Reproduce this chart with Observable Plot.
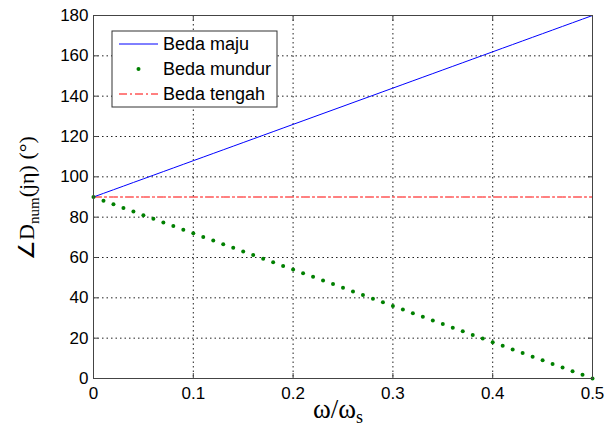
<!DOCTYPE html>
<html><head><meta charset="utf-8">
<script src="https://cdn.jsdelivr.net/npm/d3@7"></script>
<script src="https://cdn.jsdelivr.net/npm/@observablehq/plot@0.6"></script>
<style>body{margin:0;background:#fff} #chart{position:relative;width:614px;height:434px}</style>
</head><body><div id="chart"></div>
<script>
const omega = [0,0.01,0.02,0.03,0.04,0.05,0.06,0.07,0.08,0.09,
  0.1,0.11,0.12,0.13,0.14,0.15,0.16,0.17,0.18,0.19,
  0.2,0.21,0.22,0.23,0.24,0.25,0.26,0.27,0.28,0.29,
  0.3,0.31,0.32,0.33,0.34,0.35,0.36,0.37,0.38,0.39,
  0.4,0.41,0.42,0.43,0.44,0.45,0.46,0.47,0.48,0.49,0.5];
const bedaMaju = [90,91.8,93.6,95.4,97.2,99,100.8,102.6,104.4,106.2,
  108,109.8,111.6,113.4,115.2,117,118.8,120.6,122.4,124.2,
  126,127.8,129.6,131.4,133.2,135,136.8,138.6,140.4,142.2,
  144,145.8,147.6,149.4,151.2,153,154.8,156.6,158.4,160.2,
  162,163.8,165.6,167.4,169.2,171,172.8,174.6,176.4,178.2,180];
const bedaMundur = [90,88.2,86.4,84.6,82.8,81,79.2,77.4,75.6,73.8,
  72,70.2,68.4,66.6,64.8,63,61.2,59.4,57.6,55.8,
  54,52.2,50.4,48.6,46.8,45,43.2,41.4,39.6,37.8,
  36,34.2,32.4,30.6,28.8,27,25.2,23.4,21.6,19.8,
  18,16.2,14.4,12.6,10.8,9,7.2,5.4,3.6,1.8,0];
const bedaTengah = [90,90,90,90,90,90,90,90,90,90,
  90,90,90,90,90,90,90,90,90,90,
  90,90,90,90,90,90,90,90,90,90,
  90,90,90,90,90,90,90,90,90,90,
  90,90,90,90,90,90,90,90,90,90,90];
const xTicks = [0,0.1,0.2,0.3,0.4,0.5];
const yTicks = [0,20,40,60,80,100,120,140,160,180];
const seriesNames = ["Beda maju","Beda mundur","Beda tengah"];

const data = omega.map((w,i)=>({w, maju:bedaMaju[i], mundur:bedaMundur[i], tengah:bedaTengah[i]}));
const grid = {stroke:"#222", strokeOpacity:1, strokeDasharray:"1.5,3"};
const sans = "'Liberation Sans', Arial, sans-serif";
const serif = "'Liberation Serif', 'Times New Roman', serif";

const plot = Plot.plot({
  width:614, height:434,
  marginLeft:93, marginRight:22, marginTop:15, marginBottom:56,
  style:{fontFamily:sans, fontSize:"17px", color:"#000", background:"#fff"},
  x:{domain:[0,0.5]},
  y:{domain:[0,180]},
  marks:[
    Plot.gridX(xTicks, grid),
    Plot.gridY(yTicks, grid),
    Plot.line(data,{x:"w", y:"tengah", stroke:"#ff0000", strokeWidth:1, strokeDasharray:"8,3,2,3"}),
    Plot.line(data,{x:"w", y:"maju", stroke:"#0000ff", strokeWidth:1}),
    Plot.dot(data,{x:"w", y:"mundur", r:2, fill:"#008000", stroke:null}),
    Plot.axisX(xTicks,{anchor:"bottom", tickSize:-5, tickPadding:13, tickFormat:d=>String(d), label:null, stroke:"#444"}),
    Plot.axisX(xTicks,{anchor:"top", tickSize:-5, tickFormat:()=>"", label:null, stroke:"#444"}),
    Plot.axisY(yTicks,{anchor:"left", tickSize:-5, tickPadding:10, tickFormat:d=>String(d), label:null, stroke:"#444"}),
    Plot.axisY(yTicks,{anchor:"right", tickSize:-5, tickFormat:()=>"", label:null, stroke:"#444"}),
    Plot.frame({stroke:"#444", strokeWidth:1})
  ]
});
document.getElementById("chart").appendChild(plot);

const svg = d3.select(plot);
// legend
const lg = svg.append("g");
lg.append("rect").attr("x",112).attr("y",31).attr("width",165).attr("height",76)
  .attr("fill","#fff").attr("stroke","#333");
const rows = [44,69,94];
lg.append("line").attr("x1",119).attr("x2",158).attr("y1",rows[0]).attr("y2",rows[0]).attr("stroke","#0000ff");
lg.append("circle").attr("cx",138.5).attr("cy",rows[1]).attr("r",2).attr("fill","#008000");
lg.append("line").attr("x1",119).attr("x2",158).attr("y1",rows[2]).attr("y2",rows[2]).attr("stroke","#ff0000").attr("stroke-dasharray","8,3,2,3");
seriesNames.forEach((n,i)=>{
  lg.append("text").attr("x",163).attr("y",rows[i]).attr("dy","0.35em").attr("text-anchor","start")
    .style("font-family",sans).style("font-size","18px").attr("fill","#000").text(n);
});
// y label
const yl = svg.append("text").attr("transform","translate(34,198) rotate(-90)")
  .attr("text-anchor","middle").style("font-family",serif).style("font-size","22px").attr("fill","#000");
yl.append("tspan").text("\u2220D");
yl.append("tspan").attr("dy",5).style("font-size","15px").text("num");
yl.append("tspan").attr("dy",-5).text("(j\u03B7) (\u00B0)");
// x label
const xl = svg.append("text").attr("x",338).attr("y",418)
  .attr("text-anchor","middle").style("font-family",serif).style("font-size","27px").attr("fill","#000");
xl.append("tspan").text("\u03C9/\u03C9");
xl.append("tspan").attr("dy",5).style("font-size","18px").text("s");
</script>
</body></html>
